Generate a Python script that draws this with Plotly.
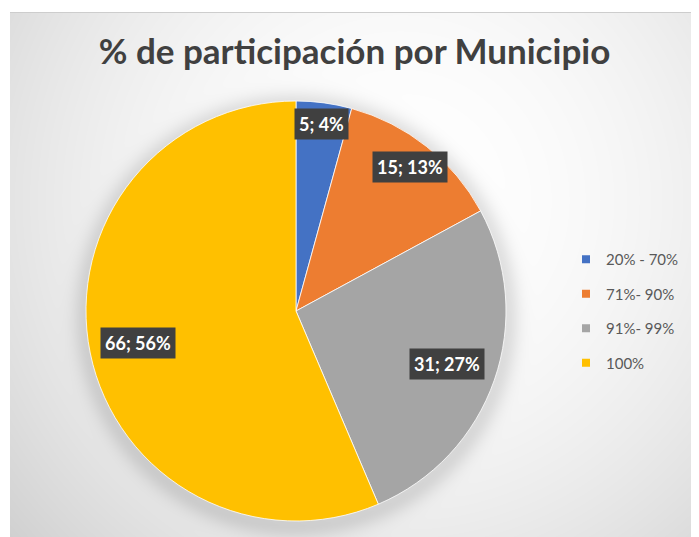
import base64, struct, zlib, math
import numpy as np
import plotly.graph_objects as go

# ---------------- data ----------------
categories = ["20% - 70%", "71%- 90%", "91%- 99%", "100%"]
values = [5, 15, 31, 66]
colors = ["#4472C4", "#ED7D31", "#A5A5A5", "#FFC000"]
title_text = "% de participación por Municipio"

# ---------------- layout constants (page pixels) ----------------
W, H = 699, 537
OFF = 8                             # browser body margin
CHART_L, CHART_T = 10, 12           # chart area top-left (white frame outside)
PIE_CX, PIE_CY, PIE_R = 296, 311, 210
LABEL_RFRAC = [0.90, 0.875, 0.76, 0.77]   # best-fit label radial placement
FONT = "Lato"

def fx(p):
    return (p - OFF) / W

def fy(p):
    return 1 - (p - OFF) / H

# ---------------- background (radial gradient + pie shadow) ----------------
def png_gray(arr):
    h, w = arr.shape
    raw = b"".join(b"\x00" + arr[i].tobytes() for i in range(h))
    def chunk(tag, data):
        c = struct.pack(">I", len(data)) + tag + data
        return c + struct.pack(">I", zlib.crc32(tag + data) & 0xFFFFFFFF)
    ihdr = struct.pack(">IIBBBBB", w, h, 8, 0, 0, 0, 0)
    return (b"\x89PNG\r\n\x1a\n" + chunk(b"IHDR", ihdr)
            + chunk(b"IDAT", zlib.compress(raw, 9)) + chunk(b"IEND", b""))

bw, bh = W + OFF - CHART_L, H + OFF - CHART_T
yy, xx = np.mgrid[0:bh, 0:bw]
px = xx + CHART_L
py = yy + CHART_T
d2 = (px - 400.0) ** 2 + (py - 200.0) ** 2
g = 255.0 - 1.75e-4 * d2
dp = np.sqrt((px - PIE_CX) ** 2 + (py - (PIE_CY + 4)) ** 2)
out = np.clip(dp - PIE_R, 0, None)
g -= 28.0 * np.exp(-(out / 14.0) ** 2)
g = np.clip(g, 150, 255)
g[0, :] = np.minimum(g[0, :], 205)
img = g.astype(np.uint8)
bg_uri = "data:image/png;base64," + base64.b64encode(png_gray(img)).decode()

# percentages rounded to sum 100 (largest remainder), as the source shows
total = sum(values)
raw_pct = [v / total * 100 for v in values]
pcts = [math.floor(p) for p in raw_pct]
order = sorted(range(len(values)), key=lambda i: raw_pct[i] - pcts[i], reverse=True)
for i in order[: 100 - sum(pcts)]:
    pcts[i] += 1

fig = go.Figure()

fig.add_trace(go.Pie(
    labels=categories,
    values=values,
    sort=False,
    direction="clockwise",
    rotation=0,
    marker=dict(colors=colors, line=dict(color="white", width=0.8)),
    textinfo="none",
    hoverinfo="label+value+percent",
    showlegend=False,
    domain=dict(
        x=[fx(PIE_CX - PIE_R), fx(PIE_CX + PIE_R)],
        y=[fy(PIE_CY + PIE_R), fy(PIE_CY - PIE_R)],
    ),
))

for i, (cat, col) in enumerate(zip(categories, colors)):
    fig.add_trace(go.Scatter(
        x=[None], y=[None], mode="markers", name=cat,
        marker=dict(symbol="square", size=8, color=col),
        legendgroup=f"g{i}", showlegend=True, hoverinfo="skip",
    ))

cum = 0
annotations = []
for i, v in enumerate(values):
    mid = (cum + v / 2) / total * 2 * math.pi
    cum += v
    r = LABEL_RFRAC[i] * PIE_R
    lx = PIE_CX + r * math.sin(mid)
    ly = PIE_CY - r * math.cos(mid)
    annotations.append(dict(
        x=fx(lx), y=fy(ly), xref="paper", yref="paper",
        text=f"<b>{v}; {pcts[i]}%</b>", showarrow=False,
        font=dict(family=FONT, size=18, color="white"),
        bgcolor="#404040", borderpad=4,
        xanchor="center", yanchor="middle",
    ))

fig.update_layout(
    width=W, height=H,
    margin=dict(l=0, r=0, t=0, b=0),
    paper_bgcolor="white",
    plot_bgcolor="rgba(0,0,0,0)",
    title=dict(
        text=f"<b>{title_text}</b>",
        x=fx((CHART_L + W) / 2), xanchor="center", xref="paper",
        y=fy(52), yanchor="middle", yref="container",
        font=dict(family=FONT, size=35, color="#404040"),
    ),
    xaxis=dict(visible=False),
    yaxis=dict(visible=False),
    legend=dict(
        x=fx(566), xanchor="left",
        y=fy(243), yanchor="top",
        font=dict(family=FONT, size=15, color="#595959"),
        bgcolor="rgba(0,0,0,0)",
        tracegroupgap=12,
    ),
    images=[dict(
        source=bg_uri, xref="paper", yref="paper",
        x=fx(CHART_L), y=fy(CHART_T),
        sizex=bw / W, sizey=bh / H,
        xanchor="left", yanchor="top", sizing="stretch", layer="below",
    )],
    annotations=annotations,
)

fig.write_html("out.html")
